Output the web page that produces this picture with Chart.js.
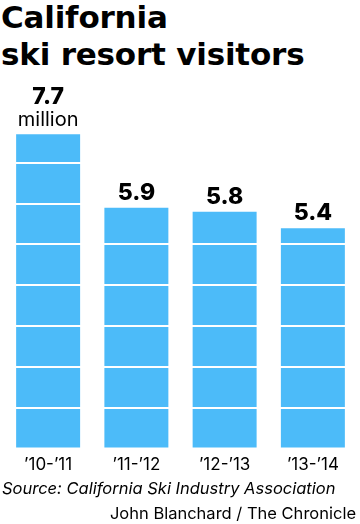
<!DOCTYPE html>
<html>
<head>
<meta charset="utf-8">
<script src="https://cdn.jsdelivr.net/npm/chart.js@4"></script>
<style>
  html, body { margin: 0; padding: 0; background: #fff; }
  body { width: 360px; height: 524px; position: relative; overflow: hidden; font-family: Inter, "Noto Sans", sans-serif; color: #000; }
  #title { position: absolute; left: 1px; top: -1px; font-family: "DejaVu Sans", sans-serif; font-size: 31px; font-weight: 700; line-height: 37px; letter-spacing: -0.2px; }
  #chart { position: absolute; left: 0; top: 0; }
  #source { position: absolute; left: 2px; top: 478px; font-size: 16.5px; font-style: italic; line-height: 20px; }
  #credit { position: absolute; right: 4px; top: 503px; font-size: 16.5px; line-height: 20px; }
</style>
</head>
<body>
<div id="title">California<br>ski resort visitors</div>
<canvas id="chart" width="360" height="524"></canvas>
<div id="source">Source: California Ski Industry Association</div>
<div id="credit">John Blanchard / The Chronicle</div>
<script>
'use strict';

// Seasons and visitors (millions)
var seasons = ['\u201910-\u201911', '\u201911-\u201912', '\u201912-\u201913', '\u201913-\u201914'];
var visitors = [7.7, 5.9, 5.8, 5.4];
var yMax = 8;
var yStep = 1;

var barColor = '#4cbbf9';

/**
 * Value labels drawn above each bar, "million" under the first one.
 */
var valueLabels = {
  id: 'valueLabels',
  afterDraw: function(chart) {
    var ctx = chart.ctx;
    var meta = chart.getDatasetMeta(0);
    ctx.save();
    ctx.fillStyle = '#000';
    ctx.textAlign = 'center';
    ctx.textBaseline = 'alphabetic';
    meta.data.forEach(function(bar, i) {
      var text = visitors[i].toFixed(1);
      if (i === 0) {
        ctx.font = '400 20px Inter, "Noto Sans", sans-serif';
        ctx.fillText('million', bar.x, bar.y - 8);
        ctx.font = '800 23px Inter, "Noto Sans", sans-serif';
        ctx.fillText(text, bar.x, bar.y - 30);
      } else {
        ctx.font = '800 23px Inter, "Noto Sans", sans-serif';
        ctx.fillText(text, bar.x, bar.y - 8);
      }
    });
    ctx.restore();
  }
};

var ctx = document.getElementById('chart').getContext('2d');
new Chart(ctx, {
  type: 'bar',
  data: {
    labels: seasons,
    datasets: [{
      data: visitors,
      backgroundColor: barColor,
      borderWidth: 0,
      borderRadius: 0,
      categoryPercentage: 1,
      barPercentage: 0.725
    }]
  },
  options: {
    responsive: false,
    animation: false,
    layout: {
      padding: { top: 122, left: 4, right: 3, bottom: 43 }
    },
    plugins: {
      legend: { display: false },
      tooltip: { enabled: false }
    },
    scales: {
      x: {
        grid: { display: false, drawTicks: false },
        border: { display: false },
        ticks: {
          color: '#000',
          padding: 6,
          font: { family: 'Inter, "Noto Sans", sans-serif', size: 17, weight: '400' }
        }
      },
      y: {
        min: 0,
        max: yMax,
        ticks: { display: false, stepSize: yStep },
        border: { display: false },
        grid: {
          z: 1, // white rules on top of the bars
          drawTicks: false,
          lineWidth: 2,
          color: function(c) {
            return c.index === 0 ? 'rgba(255,255,255,0)' : '#ffffff';
          }
        }
      }
    }
  },
  plugins: [valueLabels]
});
</script>
</body>
</html>
